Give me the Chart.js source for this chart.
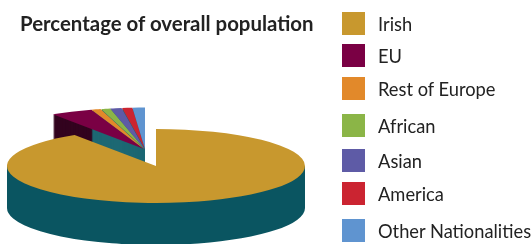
<!DOCTYPE html>
<html><head><meta charset="utf-8">
<script src="https://cdn.jsdelivr.net/npm/chart.js@4/dist/chart.umd.min.js"></script>
<style>
html,body{margin:0;padding:0;background:#fff;}
#wrap{position:relative;width:531px;height:244px;overflow:hidden;}
#c{position:absolute;left:0;top:0;}
#title{position:absolute;left:20px;top:12px;font-family:Lato,sans-serif;font-weight:bold;font-size:20.4px;color:#222;line-height:23px;white-space:nowrap;}
.lg{position:absolute;left:342px;height:23px;width:189px;white-space:nowrap;}
.sw{position:absolute;left:0;top:0;width:23px;height:23px;}
.lt{position:absolute;left:36px;top:1px;font-family:Lato,sans-serif;font-size:18.3px;color:#222;line-height:23px;}
</style></head>
<body><div id="wrap"><canvas id="c" width="531" height="244"></canvas><div id="title"></div><div id="legend"></div></div>
<script>
// ---- data ----
const categories = ['Irish', 'EU', 'Rest of Europe', 'African', 'Asian', 'America', 'Other Nationalities'];
const percentages = [90.8, 4.1, 0.9, 0.9, 1.1, 1.0, 1.2];
const titleText = 'Percentage of overall population';

// ---- styles ----
const topColors  = ['#C8982E', '#7A0044', '#E2892A', '#8BB547', '#5E5BA6', '#CB2431', '#5F94D0'];
const sideColors = ['#0A5561', '#33041F', '#1D6873', '#1D6873', '#1D6873', '#1D6873', '#1D6873'];
const legendTops = [12, 44, 77, 114, 149, 182, 219];

document.getElementById('title').textContent = titleText;
const lg = document.getElementById('legend');
categories.forEach((c, i) => {
  const row = document.createElement('div');
  row.className = 'lg';
  row.style.top = legendTops[i] + 'px';
  const sw = document.createElement('div');
  sw.className = 'sw';
  sw.style.background = topColors[i];
  const t = document.createElement('div');
  t.className = 'lt';
  t.textContent = c;
  row.appendChild(sw); row.appendChild(t);
  lg.appendChild(row);
});

const pie3d = {
  id: 'pie3d',
  beforeDatasetsDraw(chart, args, opts) {
    const ctx = chart.ctx;
    const arcs = chart.getDatasetMeta(0).data;
    const R = Math.max(...arcs.map(a => a.outerRadius));
    const sx = opts.rx / R, sy = opts.ry / R;
    const order = arcs.map((a, i) => i).filter(i => i !== 0).concat([0]);
    const place = (arc, i, d) => {
      const e = opts.explode[i] || [0, 0, 1];
      ctx.translate(opts.cx + e[0], opts.cy + e[1] + d);
      ctx.scale(sx * e[2], sy * e[2]);
      ctx.translate(-arc.x, -arc.y);
    };
    order.forEach(i => {
      const arc = arcs[i];
      const o = arc.options;
      arc.options = Object.assign({}, o, {backgroundColor: opts.sideColors[i], borderWidth: 0});
      if (i === 0) {
        // main slice covers the whole front half: bottom face + band between rims
        ctx.save(); place(arc, i, opts.depth); arc.draw(ctx); ctx.restore();
        ctx.save();
        ctx.fillStyle = opts.sideColors[i];
        ctx.fillRect(opts.cx - opts.rx, opts.cy, 2 * opts.rx, opts.depth);
        ctx.restore();
      } else {
        for (let d = opts.depth; d >= 1; d -= 1) {
          ctx.save(); place(arc, i, d); arc.draw(ctx); ctx.restore();
        }
      }
      arc.options = o;
    });
    order.forEach(i => {
      const arc = arcs[i];
      ctx.save(); place(arc, i, 0); arc.draw(ctx); ctx.restore();
    });
    return false;
  }
};

new Chart(document.getElementById('c'), {
  type: 'pie',
  data: {
    labels: categories,
    datasets: [{ data: percentages, backgroundColor: topColors, borderWidth: 0, hoverOffset: 0 }]
  },
  options: {
    responsive: false,
    devicePixelRatio: 1,
    animation: false,
    events: [],
    plugins: {
      legend: { display: false },
      title: { display: false },
      tooltip: { enabled: false },
      pie3d: {
        cx: 156, cy: 166, rx: 149, ry: 37, depth: 42,
        sideColors: sideColors,
        explode: [[0, 0, 1], [-12, -17, 1.12], [-12, -17, 1.12], [-11.5, -17, 1.12], [-11.5, -17, 1.12], [-11, -17, 1.12], [-11, -17, 1.12]]
      }
    }
  },
  plugins: [pie3d]
});
</script>
</body></html>
